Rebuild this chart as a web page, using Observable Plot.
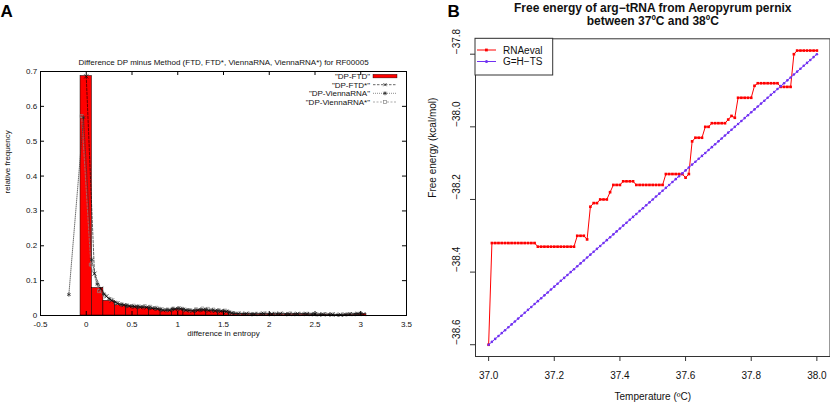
<!DOCTYPE html>
<html><head><meta charset="utf-8">
<script src="https://cdn.jsdelivr.net/npm/d3@7"></script>
<script src="https://cdn.jsdelivr.net/npm/@observablehq/plot@0.6"></script>
<style>
html,body{margin:0;padding:0;background:#fff;}
#wrap{position:relative;width:830px;height:406px;overflow:hidden;font-family:"Liberation Sans",Arial,Helvetica,sans-serif;}
#wrap > svg{position:absolute;top:0;}
</style></head><body><div id="wrap"></div>
<script>
// ---------- Panel A data ----------
const titleA = "Difference DP minus Method (FTD, FTD*, ViennaRNA, ViennaRNA*) for RF00005";
const xLabelA = "difference in entropy";
const yLabelA = "relative frequency";
const xTicksA = [-0.5, 0, 0.5, 1, 1.5, 2, 2.5, 3, 3.5];
const yTicksA = [0, 0.1, 0.2, 0.3, 0.4, 0.5, 0.6, 0.7];
const binWidth = 0.125;
const binCenters = [0, 0.125, 0.25, 0.375, 0.5, 0.625, 0.75, 0.875, 1.0, 1.125, 1.25, 1.375, 1.5,
  1.625, 1.75, 1.875, 2.0, 2.125, 2.25, 2.375, 2.5, 2.625, 2.75, 2.875, 3.0];
const binHeights = [0.687, 0.079, 0.042, 0.030, 0.026, 0.024, 0.019, 0.013, 0.019, 0.014, 0.016, 0.014, 0.012,
  0.005, 0.005, 0.004, 0.005, 0.004, 0.005, 0.004, 0.003, 0.003, 0.002, 0.003, 0.004];
const ftdStarX = [0, 0.09, 0.16, 0.22, 0.28, 0.34, 0.41, 0.47, 0.53, 0.59, 0.66, 0.72, 0.78, 0.84, 0.91, 0.97, 1.03, 1.09, 1.16, 1.22,
  1.28, 1.34, 1.41, 1.47, 1.53, 1.59, 1.66, 1.75, 1.84, 1.94, 2.03, 2.12, 2.22, 2.31, 2.41, 2.5, 2.59, 2.69, 2.78, 2.88, 2.97, 3.03];
const ftdStarY = [0.686, 0.12, 0.077, 0.055, 0.043, 0.035, 0.03, 0.027, 0.025, 0.024, 0.023, 0.021, 0.019, 0.015, 0.015, 0.018, 0.019, 0.015, 0.013, 0.015,
  0.016, 0.014, 0.013, 0.012, 0.011, 0.007, 0.005, 0.005, 0.004, 0.005, 0.004, 0.005, 0.004, 0.005, 0.004, 0.004, 0.003, 0.003, 0.002, 0.004, 0.005, 0.004];
const viennaX = [-0.19, -0.03, 0.06, 0.12, 0.19, 0.25, 0.31, 0.38, 0.44, 0.5, 0.56, 0.62, 0.69, 0.75, 0.81, 0.88, 0.94, 1.0, 1.06, 1.12,
  1.19, 1.25, 1.31, 1.38, 1.44, 1.5, 1.56, 1.62, 1.72, 1.81, 1.91, 2.0, 2.09, 2.19, 2.28, 2.38, 2.47, 2.56, 2.66, 2.75, 2.84, 2.94, 3.0];
const viennaY = [0.06, 0.568, 0.16, 0.09, 0.062, 0.048, 0.038, 0.031, 0.028, 0.026, 0.025, 0.024, 0.022, 0.02, 0.017, 0.016, 0.018, 0.02, 0.018, 0.015,
  0.014, 0.016, 0.017, 0.015, 0.014, 0.013, 0.01, 0.006, 0.005, 0.004, 0.005, 0.004, 0.005, 0.004, 0.004, 0.005, 0.004, 0.003, 0.003, 0.002, 0.003, 0.004, 0.005];
const viennaStarX = [-0.05, 0.05, 0.14, 0.2, 0.27, 0.33, 0.39, 0.45, 0.52, 0.58, 0.64, 0.7, 0.77, 0.83, 0.89, 0.95, 1.02, 1.08, 1.14, 1.2,
  1.27, 1.33, 1.39, 1.45, 1.52, 1.58, 1.67, 1.77, 1.86, 1.95, 2.05, 2.14, 2.23, 2.33, 2.42, 2.52, 2.61, 2.7, 2.8, 2.89, 2.98];
const viennaStarY = [0.572, 0.146, 0.07, 0.058, 0.046, 0.036, 0.032, 0.029, 0.028, 0.026, 0.027, 0.025, 0.022, 0.018, 0.017, 0.02, 0.021, 0.017, 0.015, 0.018,
  0.02, 0.019, 0.017, 0.015, 0.014, 0.008, 0.006, 0.005, 0.005, 0.006, 0.005, 0.005, 0.006, 0.004, 0.005, 0.003, 0.004, 0.003, 0.003, 0.004, 0.005];
const legendA = ['"DP-FTD"', '"DP-FTD*"', '"DP-ViennaRNA"', '"DP-ViennaRNA*"'];

// ---------- Panel B data ----------
const titleB1 = "Free energy of arg\u2212tRNA from Aeropyrum pernix";
const titleB2 = "between 37\u00baC and 38\u00baC";
const xLabelB = "Temperature (\u00baC)";
const yLabelB = "Free energy (kcal/mol)";
const xTicksB = [37.0, 37.2, 37.4, 37.6, 37.8, 38.0];
const yTicksB = [-38.6, -38.4, -38.2, -38.0, -37.8];
const legendB = ["RNAeval", "G=H\u2212TS"];
const temps = [
  37.00,37.01,37.02,37.03,37.04,37.05,37.06,37.07,37.08,37.09,
  37.10,37.11,37.12,37.13,37.14,37.15,37.16,37.17,37.18,37.19,
  37.20,37.21,37.22,37.23,37.24,37.25,37.26,37.27,37.28,37.29,
  37.30,37.31,37.32,37.33,37.34,37.35,37.36,37.37,37.38,37.39,
  37.40,37.41,37.42,37.43,37.44,37.45,37.46,37.47,37.48,37.49,
  37.50,37.51,37.52,37.53,37.54,37.55,37.56,37.57,37.58,37.59,
  37.60,37.61,37.62,37.63,37.64,37.65,37.66,37.67,37.68,37.69,
  37.70,37.71,37.72,37.73,37.74,37.75,37.76,37.77,37.78,37.79,
  37.80,37.81,37.82,37.83,37.84,37.85,37.86,37.87,37.88,37.89,
  37.90,37.91,37.92,37.93,37.94,37.95,37.96,37.97,37.98,37.99,
  38.00];
const rnaeval = [
  -38.60,-38.32,-38.32,-38.32,-38.32,-38.32,-38.32,-38.32,-38.32,-38.32,
  -38.32,-38.32,-38.32,-38.32,-38.32,-38.33,-38.33,-38.33,-38.33,-38.33,
  -38.33,-38.33,-38.33,-38.33,-38.33,-38.33,-38.33,-38.30,-38.30,-38.30,
  -38.31,-38.22,-38.21,-38.21,-38.20,-38.20,-38.20,-38.18,-38.16,-38.16,
  -38.16,-38.15,-38.15,-38.15,-38.15,-38.16,-38.16,-38.16,-38.16,-38.16,
  -38.16,-38.16,-38.16,-38.16,-38.13,-38.13,-38.13,-38.13,-38.13,-38.13,
  -38.14,-38.13,-38.04,-38.03,-38.03,-38.03,-38.00,-38.00,-37.99,-37.99,
  -37.99,-37.99,-37.99,-37.98,-37.97,-37.975,-37.92,-37.92,-37.92,-37.92,
  -37.92,-37.887,-37.88,-37.88,-37.88,-37.88,-37.88,-37.88,-37.88,-37.89,
  -37.89,-37.89,-37.89,-37.80,-37.79,-37.79,-37.79,-37.79,-37.79,-37.79,
  -37.79];
const ghts = [
  -38.600,-38.592,-38.584,-38.576,-38.568,-38.560,-38.552,-38.544,-38.536,-38.528,
  -38.520,-38.512,-38.504,-38.496,-38.488,-38.480,-38.472,-38.464,-38.456,-38.448,
  -38.440,-38.432,-38.424,-38.416,-38.408,-38.400,-38.392,-38.384,-38.376,-38.368,
  -38.360,-38.352,-38.344,-38.336,-38.328,-38.320,-38.312,-38.304,-38.296,-38.288,
  -38.280,-38.272,-38.264,-38.256,-38.248,-38.240,-38.232,-38.224,-38.216,-38.208,
  -38.200,-38.192,-38.184,-38.176,-38.168,-38.160,-38.152,-38.144,-38.136,-38.128,
  -38.120,-38.112,-38.104,-38.096,-38.088,-38.080,-38.072,-38.064,-38.056,-38.048,
  -38.040,-38.032,-38.024,-38.016,-38.008,-38.000,-37.992,-37.984,-37.976,-37.968,
  -37.960,-37.952,-37.944,-37.936,-37.928,-37.920,-37.912,-37.904,-37.896,-37.888,
  -37.880,-37.872,-37.864,-37.856,-37.848,-37.840,-37.832,-37.824,-37.816,-37.808,
  -37.800];

// ---------- build ----------
const FONT = "'Liberation Sans', Arial, Helvetica, sans-serif";
const RED = "#ff0000";
const BLUE = "#7030f2";
const pts = (xs, ys) => xs.map((x, i) => ({x, y: ys[i]}));
const bins = binCenters.map((c, i) => ({c, h: binHeights[i]}));
const sFtdStar = pts(ftdStarX, ftdStarY);
const sVienna = pts(viennaX, viennaY);
const sViennaStar = pts(viennaStarX, viennaStarY);
const sRna = pts(temps, rnaeval);
const sG = pts(temps, ghts);

const tickInY = 0.0115, tickInX = 0.044; // inward tick length (gnuplot style)

const plotA = Plot.plot({
  width: 418, height: 406,
  marginLeft: 40, marginRight: 12, marginTop: 71, marginBottom: 91,
  style: {fontFamily: FONT, fontSize: "8px", color: "#111", background: "transparent"},
  x: {domain: [-0.5, 3.5]},
  y: {domain: [0, 0.7]},
  marks: [
    Plot.rectY(bins, {x1: d => d.c - binWidth / 2, x2: d => d.c + binWidth / 2, y: "h", fill: RED, stroke: "#000", strokeWidth: 0.5}),
    Plot.line(sViennaStar, {x: "x", y: "y", stroke: "#888", strokeWidth: 0.7, strokeDasharray: "2,1.5"}),
    Plot.dot(sViennaStar, {x: "x", y: "y", symbol: "square", r: 1.7, stroke: "#888", fill: "none", strokeWidth: 0.7}),
    Plot.line(sVienna, {x: "x", y: "y", stroke: "#333", strokeWidth: 0.7, strokeDasharray: "0.8,1.2"}),
    Plot.dot(sVienna, {x: "x", y: "y", symbol: "asterisk", r: 2, stroke: "#222", strokeWidth: 0.7}),
    Plot.line(sFtdStar, {x: "x", y: "y", stroke: "#000", strokeWidth: 0.6, strokeDasharray: "2.5,1.5"}),
    Plot.dot(sFtdStar, {x: "x", y: "y", symbol: "times", r: 2, stroke: "#000", strokeWidth: 0.7}),
    Plot.frame({stroke: "#000", strokeWidth: 1}),
    Plot.ruleX(xTicksA, {x: d => d, y1: 0, y2: tickInY, stroke: "#000"}),
    Plot.ruleX(xTicksA, {x: d => d, y1: 0.7, y2: 0.7 - tickInY, stroke: "#000"}),
    Plot.ruleY(yTicksA, {y: d => d, x1: -0.5, x2: -0.5 + tickInX, stroke: "#000"}),
    Plot.ruleY(yTicksA, {y: d => d, x1: 3.5, x2: 3.5 - tickInX, stroke: "#000"}),
    Plot.axisX({ticks: xTicksA, tickSize: 0, tickPadding: 5.5, label: null, tickFormat: d => String(d)}),
    Plot.axisY({ticks: yTicksA, tickSize: 0, tickPadding: 3.3, label: null, tickFormat: d => String(d)}),
    Plot.text([titleA], {frameAnchor: "top", dy: -12.5}),
    Plot.text([xLabelA], {frameAnchor: "bottom", dy: 20.7}),
    Plot.text([yLabelA], {frameAnchor: "left", dx: -33.3, rotate: -90})
  ]
});

const plotB = Plot.plot({
  width: 420, height: 406,
  marginLeft: 65, marginRight: 0.5, marginTop: 38.3, marginBottom: 50,
  style: {fontFamily: FONT, fontSize: "10px", color: "#111", background: "transparent"},
  x: {domain: [36.96, 38.04]},
  y: {domain: [-38.6324, -37.7576]},
  marks: [
    Plot.line(sRna, {x: "x", y: "y", stroke: RED, strokeWidth: 1}),
    Plot.dot(sRna, {x: "x", y: "y", symbol: "square", r: 1.5, fill: RED}),
    Plot.line(sG, {x: "x", y: "y", stroke: BLUE, strokeWidth: 1}),
    Plot.dot(sG, {x: "x", y: "y", r: 1.3, fill: BLUE}),
    Plot.frame({stroke: "#333", strokeWidth: 1}),
    Plot.axisX({ticks: xTicksB, tickSize: 5, tickPadding: 10, label: null, tickFormat: d => d.toFixed(1), stroke: "#333"}),
    Plot.axisY({ticks: yTicksB, tickSize: 5, label: null, tickFormat: () => "", stroke: "#333"}),
    Plot.text(yTicksB, {y: d => d, text: d => "\u2212" + Math.abs(d).toFixed(1), frameAnchor: "left", dx: -18.3, rotate: -90}),
    Plot.text([xLabelB], {frameAnchor: "bottom", dy: 43}),
    Plot.text([yLabelB], {frameAnchor: "left", dx: -42.5, rotate: -90}),
    Plot.text([titleB1 + "\n" + titleB2], {frameAnchor: "top", lineAnchor: "bottom", dy: -14.3, lineHeight: 1.03, fontWeight: "bold", fontSize: 12})
  ]
});

const wrap = document.getElementById("wrap");
plotA.style.left = "0px";
plotB.style.left = "410px";
wrap.appendChild(plotA);
wrap.appendChild(plotB);

// Overlay: panel letters and legends
const ns = "http://www.w3.org/2000/svg";
const ov = document.createElementNS(ns, "svg");
ov.setAttribute("width", 830); ov.setAttribute("height", 406);
ov.style.left = "0px";
ov.setAttribute("font-family", FONT);
const el = (tag, attrs, text) => {
  const e = document.createElementNS(ns, tag);
  for (const k in attrs) e.setAttribute(k, attrs[k]);
  if (text != null) e.textContent = text;
  ov.appendChild(e);
  return e;
};
el("text", {x: 0.5, y: 16.7, "font-weight": "bold", "font-size": 17}, "A");
el("text", {x: 447.5, y: 16.7, "font-weight": "bold", "font-size": 17}, "B");

// Legend A
const rowsA = [76, 84.7, 93.3, 102];
legendA.forEach((t, i) => el("text", {x: 370, y: rowsA[i] + 2.9, "font-size": 8, "text-anchor": "end", fill: "#111"}, t));
el("rect", {x: 373, y: 74.3, width: 24, height: 3.6, fill: RED, stroke: "#000", "stroke-width": 0.4});
el("line", {x1: 373, x2: 397, y1: rowsA[1], y2: rowsA[1], stroke: "#000", "stroke-width": 0.6, "stroke-dasharray": "2.5,1.5"});
el("path", {d: `M383.5,${rowsA[1]-1.5}L386.5,${rowsA[1]+1.5}M386.5,${rowsA[1]-1.5}L383.5,${rowsA[1]+1.5}`, stroke: "#000", "stroke-width": 0.7});
el("line", {x1: 373, x2: 397, y1: rowsA[2], y2: rowsA[2], stroke: "#333", "stroke-width": 0.7, "stroke-dasharray": "0.8,1.2"});
el("path", {d: `M383.5,${rowsA[2]-1.5}L386.5,${rowsA[2]+1.5}M386.5,${rowsA[2]-1.5}L383.5,${rowsA[2]+1.5}M385,${rowsA[2]-2}V${rowsA[2]+2}M383,${rowsA[2]}H387`, stroke: "#222", "stroke-width": 0.7});
el("line", {x1: 373, x2: 397, y1: rowsA[3], y2: rowsA[3], stroke: "#888", "stroke-width": 0.7, "stroke-dasharray": "2,1.5"});
el("rect", {x: 383.5, y: rowsA[3] - 1.5, width: 3, height: 3, fill: "#fff", stroke: "#888", "stroke-width": 0.7});

// Legend B
el("rect", {x: 475, y: 38.3, width: 77.7, height: 36.7, fill: "#fff", stroke: "#333", "stroke-width": 1});
const rowsB = [50, 61.5];
el("line", {x1: 477, x2: 496, y1: rowsB[0], y2: rowsB[0], stroke: RED, "stroke-width": 1});
el("rect", {x: 485, y: rowsB[0] - 1.4, width: 2.8, height: 2.8, fill: RED});
el("line", {x1: 477, x2: 496, y1: rowsB[1], y2: rowsB[1], stroke: BLUE, "stroke-width": 1});
el("circle", {cx: 486.5, cy: rowsB[1], r: 1.5, fill: BLUE});
legendB.forEach((t, i) => el("text", {x: 503, y: rowsB[i] + 3.6, "font-size": 10, fill: "#111"}, t));
wrap.appendChild(ov);
</script>
</body></html>
